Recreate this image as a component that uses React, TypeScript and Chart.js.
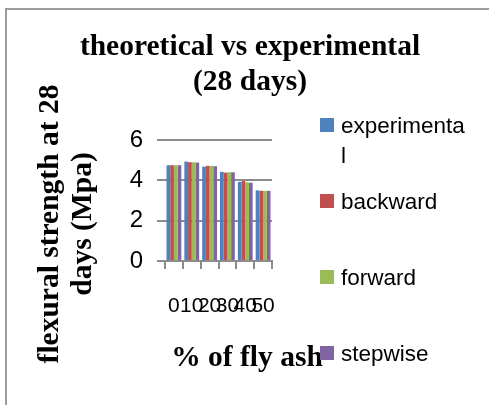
import React, { useEffect, useRef } from "react";
import { Chart, registerables } from "chart.js";

Chart.register(...registerables);

const categories = ["0", "10", "20", "30", "40", "50"];
const experimental = [4.75, 4.93, 4.68, 4.42, 3.92, 3.5];
const backward = [4.75, 4.9, 4.72, 4.38, 3.97, 3.48];
const forward = [4.75, 4.9, 4.72, 4.4, 3.9, 3.48];
const stepwise = [4.75, 4.88, 4.7, 4.4, 3.88, 3.48];
const seriesNames = ["experimental", "backward", "forward", "stepwise"];
const seriesColors = ["#4F81BD", "#C0504D", "#9BBB59", "#8064A2"];
const yMin = 0;
const yMax = 6;
const yStep = 2;
const titleLines = ["theoretical vs experimental", "(28 days)"];
const yTitleLines = ["flexural strength at 28", "days (Mpa)"];
const xTitle = "% of fly ash";

const SERIF = '"Liberation Serif", "Times New Roman", serif';
const SANS = '"Liberation Sans", Arial, sans-serif';

const decor = {
  id: "decor",
  afterDraw(chart: any) {
    const ctx = chart.ctx as CanvasRenderingContext2D;
    ctx.save();
    // outer frame
    ctx.strokeStyle = "#9c9c9c";
    ctx.lineWidth = 2;
    ctx.beginPath();
    ctx.moveTo(6, 405);
    ctx.lineTo(6, 9);
    ctx.lineTo(489, 9);
    ctx.stroke();

    // title
    ctx.fillStyle = "#000";
    ctx.font = `bold 29.5px ${SERIF}`;
    ctx.textAlign = "center";
    ctx.textBaseline = "alphabetic";
    titleLines.forEach((t, i) => ctx.fillText(t, 250, 55 + i * 35));

    // x axis title
    ctx.fillText(xTitle, 247, 366);

    // y axis title
    ctx.save();
    ctx.translate(0, 224);
    ctx.rotate(-Math.PI / 2);
    yTitleLines.forEach((t, i) => ctx.fillText(t, 0, 58 + i * 33));
    ctx.restore();

    // legend
    ctx.font = `22.5px ${SANS}`;
    ctx.textAlign = "left";
    const maxW = 124;
    chart.data.datasets.forEach((ds: any, i: number) => {
      const baseY = 133 + i * 76;
      ctx.fillStyle = ds.backgroundColor;
      ctx.fillRect(320, baseY - 15, 14, 14);
      const lines: string[] = [];
      let cur = "";
      for (const ch of String(ds.label)) {
        if (cur && ctx.measureText(cur + ch).width > maxW) {
          lines.push(cur);
          cur = ch;
        } else cur += ch;
      }
      if (cur) lines.push(cur);
      ctx.fillStyle = "#000";
      lines.forEach((l, j) => ctx.fillText(l, 341, baseY + j * 30));
    });
    ctx.restore();
  },
};

export default function App() {
  const ref = useRef<HTMLCanvasElement | null>(null);
  useEffect(() => {
    if (!ref.current) return;
    const series = [experimental, backward, forward, stepwise];
    const chart = new Chart(ref.current, {
      type: "bar",
      data: {
        labels: categories,
        datasets: series.map((d, i) => ({
          label: seriesNames[i],
          data: d,
          backgroundColor: seriesColors[i],
          borderWidth: 0,
          categoryPercentage: 0.83,
          barPercentage: 1.0,
        })),
      },
      options: {
        responsive: false,
        animation: false,
        layout: { padding: { left: 0, top: 140, right: 217, bottom: 0 } },
        plugins: {
          legend: { display: false },
          title: { display: false },
          tooltip: { enabled: false },
        },
        scales: {
          y: {
            min: yMin,
            max: yMax,
            ticks: {
              stepSize: yStep,
              color: "#000",
              font: { family: SANS, size: 24 },
              padding: 14,
            },
            grid: {
              color: "#8c8c8c",
              lineWidth: 2,
              tickLength: 8,
              drawTicks: true,
            },
            border: { display: false },
            afterFit: (s: any) => {
              s.width = 165;
            },
          },
          x: {
            ticks: {
              autoSkip: false,
              maxRotation: 0,
              minRotation: 0,
              color: "#000",
              font: { family: SANS, size: 21 },
              padding: 25,
            },
            grid: {
              display: true,
              drawOnChartArea: false,
              drawTicks: true,
              tickLength: 8,
              color: "#8c8c8c",
              lineWidth: 2,
            },
            border: { display: true, color: "#8c8c8c", width: 2 },
            afterFit: (s: any) => {
              s.height = 144;
            },
          },
        },
      },
      plugins: [decor],
    });
    return () => chart.destroy();
  }, []);
  return (
    <div style={{ position: "absolute", left: 0, top: 0, width: 489, height: 405, background: "#fff" }}>
      <canvas ref={ref} width={489} height={405} />
    </div>
  );
}
